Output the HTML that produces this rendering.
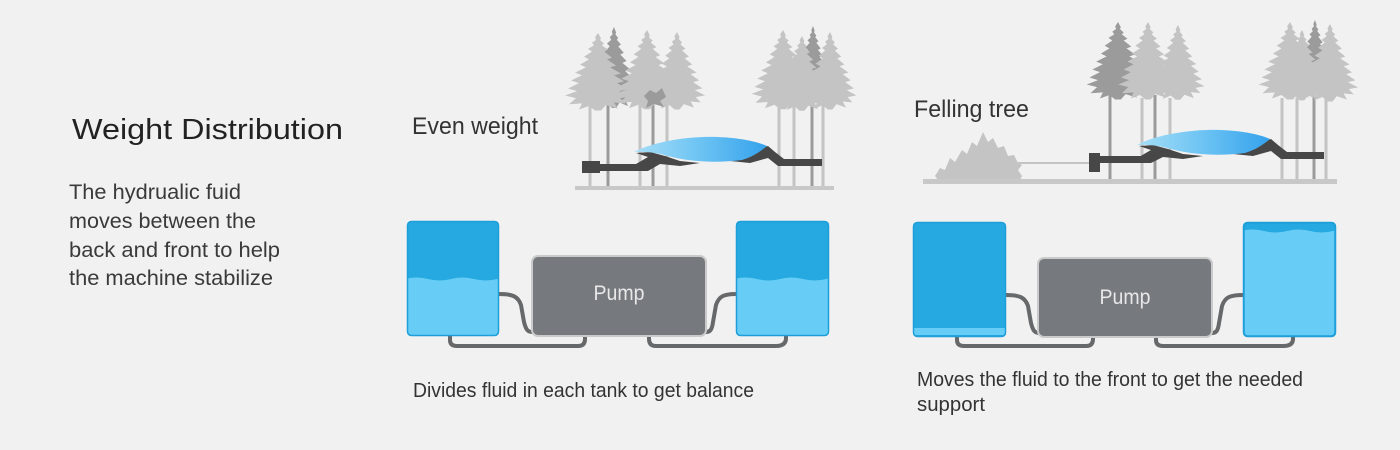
<!DOCTYPE html>
<html><head><meta charset="utf-8"><style>
html,body{margin:0;padding:0;background:#f1f1f1;}
svg{display:block;}
text{font-family:"Liberation Sans",sans-serif;}
</style></head><body>
<svg width="1400" height="450" viewBox="0 0 1400 450" xmlns="http://www.w3.org/2000/svg">
<defs>
<linearGradient id="bl" x1="0" y1="0" x2="1" y2="0">
<stop offset="0" stop-color="#a6def8"/><stop offset="0.5" stop-color="#6cc3f3"/><stop offset="1" stop-color="#35a2ec"/>
</linearGradient>
<path id="tr" d="M0,0 L3,6 L2,8 L6,12 L4,14 L10,19 L6,21 L14,28 L9,30 L18,37 L12,39 L23,46 L16,48 L26,55 L19,57 L30,64 L21,66 L33,72 L22,74 L28,80 L16,79 L20,86 L8,82 L3,88 L-3,88 L-9,83 L-19,87 L-16,80 L-29,81 L-22,74 L-33,71 L-21,66 L-30,63 L-19,57 L-27,54 L-16,48 L-23,45 L-12,39 L-18,36 L-9,30 L-14,27 L-6,21 L-10,18 L-4,14 L-6,11 L-2,8 L-3,5 Z"/>
<clipPath id="c1"><rect x="407" y="221" width="92" height="115" rx="4"/></clipPath>
<clipPath id="c2"><rect x="736" y="221" width="93" height="115" rx="4"/></clipPath>
<clipPath id="c3"><rect x="913" y="222" width="93" height="115" rx="4"/></clipPath>
<clipPath id="c4"><rect x="1243" y="222" width="93" height="115" rx="4"/></clipPath>
</defs>
<rect width="1400" height="450" fill="#f1f1f1"/>

<!-- Left text -->
<text x="72" y="139" font-size="29" fill="#222" textLength="271" lengthAdjust="spacingAndGlyphs">Weight Distribution</text>
<text x="69" y="199" font-size="21" fill="#3a3a3a" textLength="172" lengthAdjust="spacingAndGlyphs">The hydrualic fuid</text>
<text x="69" y="228" font-size="21" fill="#3a3a3a" textLength="187" lengthAdjust="spacingAndGlyphs">moves between the</text>
<text x="69" y="257" font-size="21" fill="#3a3a3a" textLength="211" lengthAdjust="spacingAndGlyphs">back and front to help</text>
<text x="69" y="285" font-size="21" fill="#3a3a3a" textLength="204" lengthAdjust="spacingAndGlyphs">the machine stabilize</text>

<text x="412" y="134" font-size="24" fill="#333" textLength="126" lengthAdjust="spacingAndGlyphs">Even weight</text>
<text x="914" y="117" font-size="24" fill="#333" textLength="115" lengthAdjust="spacingAndGlyphs">Felling tree</text>

<!-- ===== Left scene trees ===== -->
<g fill="#9b9b9b">
<use href="#tr" transform="translate(614,27) scale(0.7,0.92)"/>
<use href="#tr" transform="translate(813,26) scale(0.55,0.8)"/>
</g>
<g stroke="#9b9b9b" stroke-width="3">
<line x1="608" y1="100" x2="608" y2="187"/>
<line x1="653" y1="100" x2="653" y2="187"/>
<line x1="812" y1="95" x2="812" y2="187"/>
</g>
<g fill="#c4c4c4">
<use href="#tr" transform="translate(598,33) scale(1.0,0.88)"/>
<use href="#tr" transform="translate(647,30) scale(0.95,0.9)"/>
<use href="#tr" transform="translate(677,32) scale(0.85,0.88)"/>
<use href="#tr" transform="translate(783,30) scale(0.95,0.9)"/>
<use href="#tr" transform="translate(802,36) scale(0.8,0.85)"/>
<use href="#tr" transform="translate(830,32) scale(0.8,0.88)"/>
</g>
<g fill="#9b9b9b"><path d="M644,96 L650,90 L656,93 L662,88 L666,97 L660,101 L664,107 L654,104 L646,108 L648,101 Z"/></g>
<g stroke="#c4c4c4" stroke-width="3">
<line x1="590" y1="105" x2="590" y2="187"/>
<line x1="640" y1="105" x2="640" y2="187"/>
<line x1="667" y1="105" x2="667" y2="187"/>
<line x1="779" y1="105" x2="779" y2="187"/>
<line x1="794" y1="105" x2="794" y2="187"/>
<line x1="823" y1="105" x2="823" y2="187"/>
</g>
<rect x="575" y="186" width="259" height="4" fill="#c8c8c8"/>

<!-- Left machine -->
<g fill="#474747">
<rect x="582" y="161" width="18" height="12"/>
<rect x="598" y="164" width="44" height="7"/>
<polygon points="636,164 648,157 636,153 650,152 665,156 680,161 700,163 680,166 660,164 648,171 636,171"/>
<polygon points="730,161 752,156 762,148 768,146 775,152 784,159 784,166 778,166 768,158 750,163"/>
<rect x="780" y="159" width="42" height="7"/>
</g>
<path d="M634,152 C655,141 690,136 718,137 C742,138 758,142 767,146 C760,152 752,157 742,160 C718,163 692,162 672,157 C658,153 646,151 634,152 Z" fill="url(#bl)"/>

<!-- ===== Right scene trees ===== -->
<g fill="#9b9b9b">
<use href="#tr" transform="translate(1118,22) scale(0.95,0.88)"/>
<use href="#tr" transform="translate(1315,20) scale(0.55,0.8)"/>
</g>
<g stroke="#9b9b9b" stroke-width="3">
<line x1="1110" y1="95" x2="1110" y2="180"/>
<line x1="1155" y1="95" x2="1155" y2="180"/>
<line x1="1314" y1="90" x2="1314" y2="180"/>
</g>
<g fill="#c4c4c4">
<use href="#tr" transform="translate(1148,22) scale(0.9,0.88)"/>
<use href="#tr" transform="translate(1178,25) scale(0.8,0.85)"/>
<use href="#tr" transform="translate(1290,22) scale(0.95,0.88)"/>
<use href="#tr" transform="translate(1302,30) scale(0.75,0.8)"/>
<use href="#tr" transform="translate(1330,24) scale(0.85,0.88)"/>
</g>
<g stroke="#c4c4c4" stroke-width="3">
<line x1="1142" y1="98" x2="1142" y2="180"/>
<line x1="1170" y1="98" x2="1170" y2="180"/>
<line x1="1282" y1="98" x2="1282" y2="180"/>
<line x1="1297" y1="98" x2="1297" y2="180"/>
<line x1="1326" y1="98" x2="1326" y2="180"/>
</g>
<!-- fallen tree -->
<polygon fill="#c4c4c4" points="935,176 940,168 945,170 950,158 955,162 962,150 967,154 972,142 977,146 983,132 988,142 993,138 998,148 1004,146 1008,156 1014,155 1018,163 1022,165 1018,170 1022,176 1020,180 938,180"/>
<line x1="1018" y1="163" x2="1090" y2="163" stroke="#c4c4c4" stroke-width="2"/>
<rect x="923" y="179" width="414" height="5" fill="#c8c8c8"/>

<!-- Right machine -->
<g fill="#474747">
<rect x="1089" y="153" width="11" height="19"/>
<rect x="1099" y="156" width="46" height="7"/>
</g>
<g transform="translate(503,-7)">
<g fill="#474747">
<polygon points="636,164 648,157 636,153 650,152 665,156 680,161 700,163 680,166 660,164 648,170 636,170"/>
<polygon points="730,161 752,156 762,148 768,146 775,152 784,159 784,166 778,166 768,158 750,163"/>
<rect x="780" y="159" width="41" height="7"/>
</g>
<path d="M634,152 C655,141 690,136 718,137 C742,138 758,142 767,146 C760,152 752,157 742,160 C718,163 692,162 672,157 C658,153 646,151 634,152 Z" fill="url(#bl)"/>
</g>

<!-- ===== Left tanks/pump ===== -->
<g fill="none" stroke="#67686a" stroke-width="4" stroke-linecap="round">
<path d="M499,294 C512,294 518,296 521,305 L524,322 C526,330 528,332 532,332"/>
<path d="M450,336 L450,340 Q450,346 457,346 L578,346 Q585,346 585,339 L585,336"/>
<path d="M649,336 L649,339 Q649,346 656,346 L776,346 Q786,346 786,338 L786,336"/>
<path d="M706,332 C710,332 712,330 713,322 L716,305 C719,296 724,294 736,294"/>
</g>
<g clip-path="url(#c1)">
<rect x="407" y="221" width="92" height="115" fill="#25a9e0"/>
<path d="M405,279 Q416,276 428,279 T451,279 T474,279 T497,279 T520,279 L520,340 L405,340 Z" fill="#67cdf6"/>
</g>
<rect x="407.5" y="221.5" width="91" height="114" rx="4" fill="none" stroke="#1f9fd9" stroke-width="1.5"/>
<g clip-path="url(#c2)">
<rect x="736" y="221" width="93" height="115" fill="#25a9e0"/>
<path d="M734,279 Q745,276 757,279 T780,279 T803,279 T826,279 T849,279 L849,340 L734,340 Z" fill="#67cdf6"/>
</g>
<rect x="736.5" y="221.5" width="92" height="114" rx="4" fill="none" stroke="#1f9fd9" stroke-width="1.5"/>
<rect x="532" y="256" width="174" height="80" rx="6" fill="#76797d" stroke="#cacaca" stroke-width="2"/>
<text x="619" y="300" font-size="21" fill="#e8e8e8" text-anchor="middle" textLength="51" lengthAdjust="spacingAndGlyphs">Pump</text>

<!-- ===== Right tanks/pump ===== -->
<g fill="none" stroke="#67686a" stroke-width="4" stroke-linecap="round">
<path d="M1006,295 C1019,295 1025,297 1028,306 L1031,323 C1033,331 1035,333 1039,333"/>
<path d="M957,337 L957,340 Q957,346 964,346 L1086,346 Q1093,346 1093,339 L1093,337"/>
<path d="M1156,337 L1156,340 Q1156,346 1163,346 L1283,346 Q1293,346 1293,339 L1293,337"/>
<path d="M1212,333 C1216,333 1218,331 1219,323 L1222,306 C1225,297 1230,295 1243,295"/>
</g>
<g clip-path="url(#c3)">
<rect x="913" y="222" width="93" height="115" fill="#25a9e0"/>
<rect x="913" y="328" width="93" height="7" fill="#67cdf6"/>
</g>
<rect x="913.5" y="222.5" width="92" height="114" rx="4" fill="none" stroke="#1f9fd9" stroke-width="1.5"/>
<g clip-path="url(#c4)">
<rect x="1243" y="222" width="93" height="115" fill="#25a9e0"/>
<path d="M1241,231 Q1252,228 1264,231 T1287,231 T1310,231 T1333,231 T1356,231 L1356,341 L1241,341 Z" fill="#67cdf6"/>
</g>
<rect x="1243.75" y="222.75" width="91.5" height="113.5" rx="4" fill="none" stroke="#1f9fd9" stroke-width="2"/>
<rect x="1038" y="258" width="174" height="79" rx="6" fill="#76797d" stroke="#cacaca" stroke-width="2"/>
<text x="1125" y="304" font-size="21" fill="#e8e8e8" text-anchor="middle" textLength="51" lengthAdjust="spacingAndGlyphs">Pump</text>

<!-- captions -->
<text x="413" y="397" font-size="20" fill="#333" textLength="341" lengthAdjust="spacingAndGlyphs">Divides fluid in each tank to get balance</text>
<text x="917" y="386" font-size="20" fill="#333" textLength="386" lengthAdjust="spacingAndGlyphs">Moves the fluid to the front to get the needed</text>
<text x="917" y="411" font-size="20" fill="#333" textLength="68" lengthAdjust="spacingAndGlyphs">support</text>
</svg>
</body></html>
